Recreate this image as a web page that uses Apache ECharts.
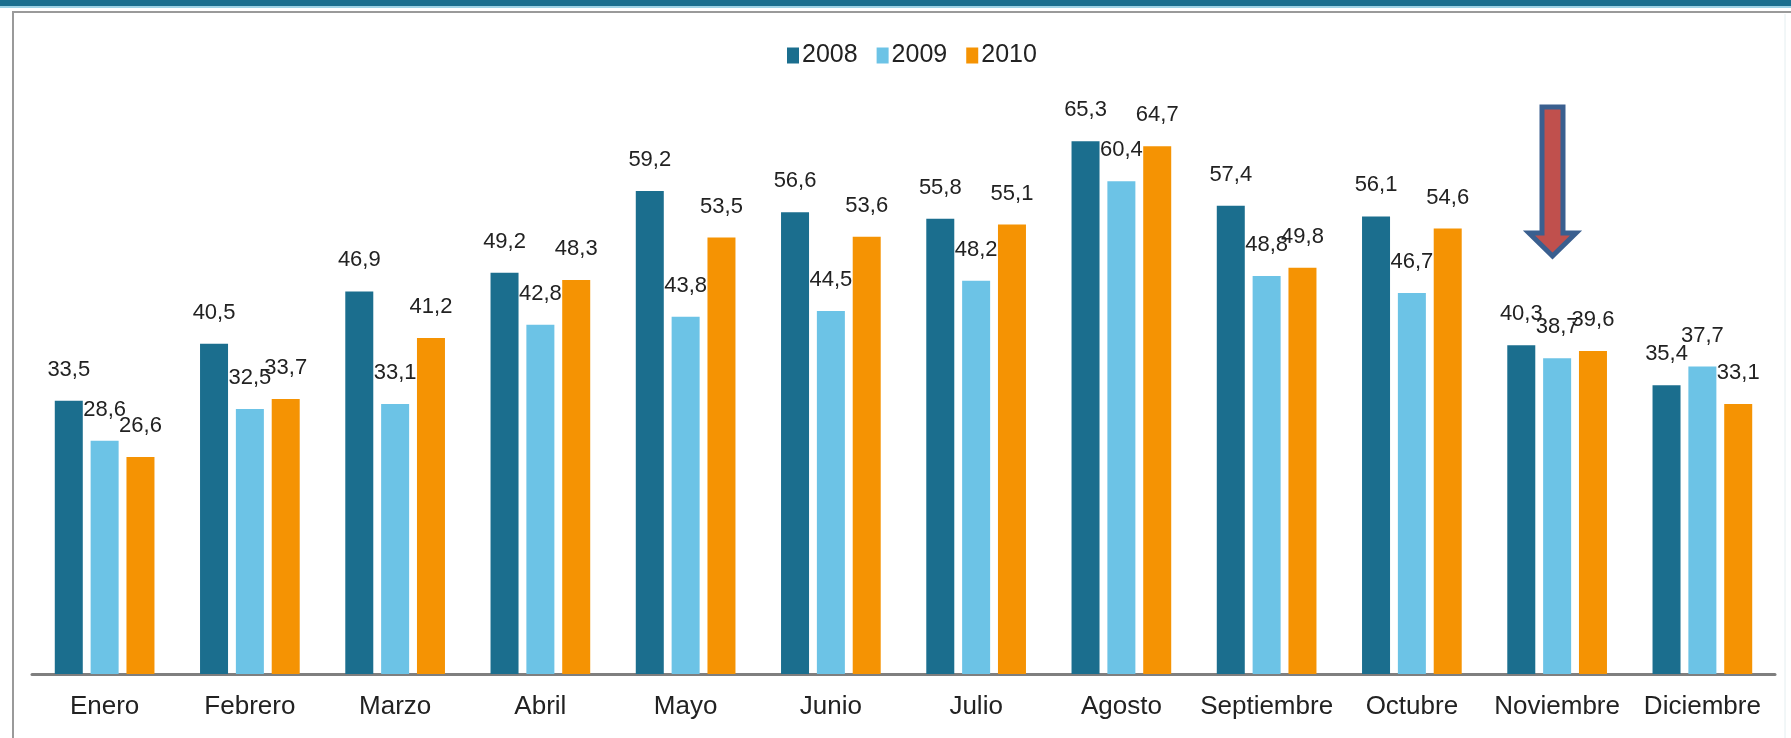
<!DOCTYPE html>
<html>
<head>
<meta charset="utf-8">
<script src="https://cdn.jsdelivr.net/npm/echarts@6/dist/echarts.min.js"></script>
<style>
  html, body { margin: 0; padding: 0; background: #fff; }
  #chart { width: 1791px; height: 738px; }
</style>
</head>
<body>
<div id="chart"></div>
<script>
var months = ['Enero', 'Febrero', 'Marzo', 'Abril', 'Mayo', 'Junio', 'Julio', 'Agosto',
  'Septiembre', 'Octubre', 'Noviembre', 'Diciembre'];
var years = ['2008', '2009', '2010'];
var v2008 = [33.5, 40.5, 46.9, 49.2, 59.2, 56.6, 55.8, 65.3, 57.4, 56.1, 40.3, 35.4];
var v2009 = [28.6, 32.5, 33.1, 42.8, 43.8, 44.5, 48.2, 60.4, 48.8, 46.7, 38.7, 37.7];
var v2010 = [26.6, 33.7, 41.2, 48.3, 53.5, 53.6, 55.1, 64.7, 49.8, 54.6, 39.6, 33.1];

var colors = ['#1b6e8e', '#6cc3e6', '#f59303'];
var font = '"Liberation Sans", Arial, sans-serif';

function barSeries(name, data) {
  return {
    name: name, type: 'bar', data: data,
    barWidth: 28, barGap: '28%',
    labelLayout: { hideOverlap: false },
    label: {
      show: true, position: 'top', distance: 20,
      color: '#222', fontSize: 22, fontFamily: font,
      formatter: function(p) { return p.value.toFixed(1).replace('.', ','); }
    }
  };
}

var chart = echarts.init(document.getElementById('chart'), null, { renderer: 'canvas' });
chart.setOption({
  animation: false,
  backgroundColor: '#fff',
  color: colors,
  legend: {
    data: years, left: 782, top: 38,
    itemWidth: 12, itemHeight: 16, itemGap: 19,
    icon: 'rect',
    textStyle: { color: '#222', fontSize: 25, fontFamily: font, padding: [0, 0, 0, -2] }
  },
  grid: { left: 32, right: 16, top: 103, bottom: 64 },
  xAxis: {
    type: 'category', data: months,
    axisLine: { lineStyle: { color: '#7f7f7f', width: 3 } },
    axisTick: { show: false },
    axisLabel: { interval: 0, color: '#222', fontSize: 26, fontFamily: font, margin: 20 }
  },
  yAxis: { type: 'value', min: 0, max: 70, show: false, splitLine: { show: false } },
  series: [
    barSeries('2008', v2008),
    barSeries('2009', v2009),
    barSeries('2010', v2010)
  ],
  graphic: [
    { type: 'rect', shape: { x: 0, y: 0, width: 1791, height: 6 }, style: { fill: '#1b6f8f' } },
    { type: 'rect', shape: { x: 0, y: 6, width: 1791, height: 2 }, style: { fill: '#9fd3e6' } },
    { type: 'line', shape: { x1: 12, y1: 12, x2: 1791, y2: 12 }, style: { stroke: '#9a9a9a', lineWidth: 2 } },
    { type: 'line', shape: { x1: 13, y1: 12, x2: 13, y2: 738 }, style: { stroke: '#9a9a9a', lineWidth: 2 } },
    { type: 'line', shape: { x1: 1785, y1: 14, x2: 1785, y2: 738 }, style: { stroke: '#e4eef0', lineWidth: 1 } },
    { type: 'polygon',
      shape: { points: [[1542, 107], [1563, 107], [1563, 233], [1576, 233], [1552.5, 256],
                        [1529, 233], [1542, 233]] },
      style: { fill: '#c0504d', stroke: '#3a5f8f', lineWidth: 5, lineJoin: 'miter' } }
  ]
});
</script>
</body>
</html>
